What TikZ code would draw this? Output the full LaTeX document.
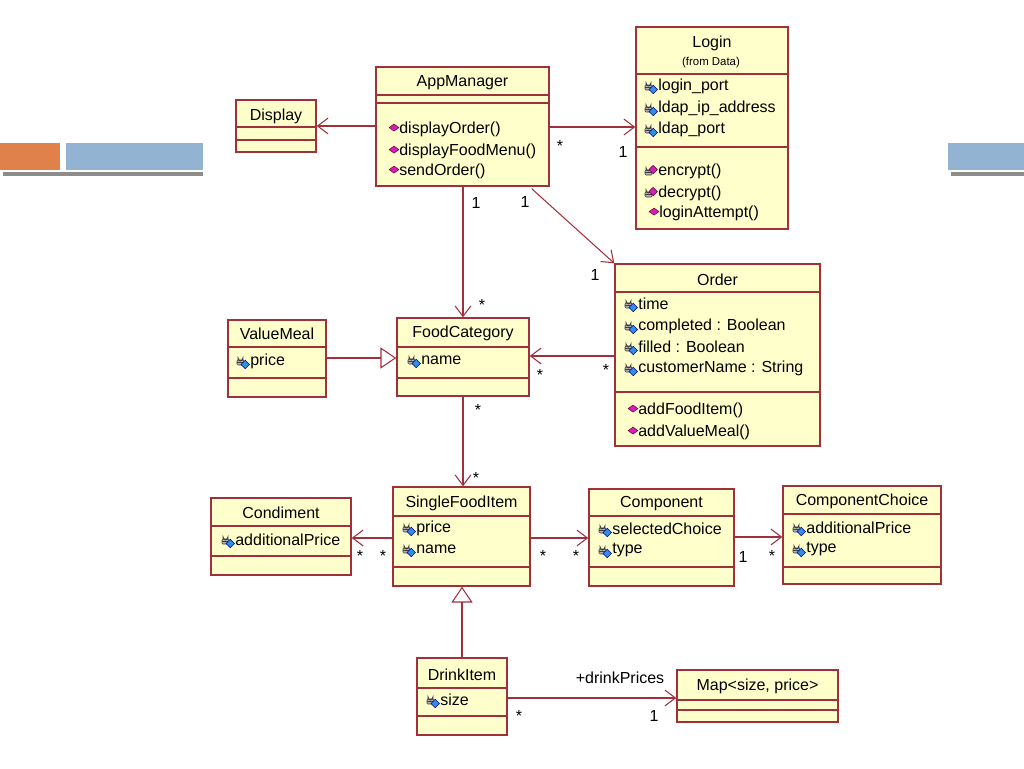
\documentclass[tikz,border=0pt]{standalone}
\usepackage{fontspec}
\setmainfont{Liberation Sans}
\usetikzlibrary{positioning,arrows.meta}
\definecolor{umlfill}{HTML}{FFFFCC}
\definecolor{umlline}{HTML}{A0303C}
\definecolor{opcol}{HTML}{D020C0}
\definecolor{attrcol}{HTML}{3090E0}
\definecolor{barorange}{HTML}{E0804A}
\definecolor{barblue}{HTML}{92B4D2}
\tikzset{
  classbox/.style={draw=umlline,fill=umlfill,line width=0.8pt,inner sep=0pt},
  txt/.style={inner sep=0pt,anchor=west,font=\fontsize{9.1}{11}\selectfont},
  ttl/.style={inner sep=0pt,font=\fontsize{9.1}{11}\selectfont},
  mult/.style={inner sep=0pt,font=\fontsize{9.1}{11}\selectfont},
  assoc/.style={draw=umlline,line width=0.6pt,-{Straight Barb[length=6pt,width=9pt]}},
  inherit/.style={draw=umlline,line width=0.6pt,-{Triangle[open,length=9pt,width=12pt,fill=white]}},
  lockicon/.pic={\fill[gray!60,draw=black!75,line width=0.3pt,rounded corners=0.5pt] (-4,-1) rectangle (3,4);
    \draw[black!75,line width=0.6pt] (-2.8,-1) -- (-2.8,-2.5) arc (180:0:2.3) -- (1.8,-1);
    \draw[black!75,line width=0.3pt] (-4,1.5) -- (3,1.5);},
  attrmark/.pic={\pic{lockicon};\fill[attrcol,draw=blue!60!black,line width=0.3pt] (3,-0.5) -- (6,2.5) -- (3,5.5) -- (0,2.5) -- cycle;},
  opmark/.pic={\fill[opcol,draw=purple!60!black,line width=0.3pt] (0,-3.5) -- (3.5,-1) -- (0,1.5) -- (-3.5,-1) -- cycle;},
  privop/.pic={\pic{lockicon};\fill[opcol,draw=purple!60!black,line width=0.3pt] (3,-4) -- (6,-1) -- (3,2) -- (0,-1) -- cycle;},
}
% class box: id, x1, y1, x2, y2, title, title y, separator 1, separator 2
\newcommand\umlclass[9]{%
  \node[classbox,minimum width={(#4-#2)*0.02cm},minimum height={(#5-#3)*0.02cm}]
    (#1) at ({(#2+#4)/2},{(#3+#5)/2}) {};
  \node[ttl] (#1-title) at ({(#2+#4)/2},#7) {#6};
  \draw[umlline,line width=0.6pt] (#2,#8) -- (#4,#8) (#2,#9) -- (#4,#9);}
\newcommand\attrline[3]{\pic[scale=1.4] at (#1,#2) {attrmark}; \node[txt] at (#1+9,#2) {#3};}
\newcommand\opline[3]{\pic[scale=1.4] at (#1,#2) {opmark}; \node[txt] at (#1+5,#2) {#3};}
\newcommand\privline[3]{\pic[scale=1.4] at (#1,#2) {privop}; \node[txt] at (#1+9,#2) {#3};}
\begin{document}
\begin{tikzpicture}[x=0.02cm,y=-0.02cm]
\useasboundingbox (0,0) rectangle (1024,768);
% slide decoration
\fill[black!45] (3,172) rectangle (203,176);
\fill[black!45] (951,172) rectangle (1024,176);
\fill[barorange] (0,143) rectangle (60,170);
\fill[barblue] (66,143) rectangle (203,170);
\fill[barblue] (948,143) rectangle (1024,170);
% classes
\umlclass{app}{376}{67}{549}{186}{AppManager}{83}{95}{103}
\opline{394}{129}{displayOrder()}
\opline{394}{151}{displayFoodMenu()}
\opline{394}{171}{sendOrder()}
\umlclass{display}{236}{100}{316}{152}{Display}{116}{127}{140}
\umlclass{login}{636}{27}{788}{229}{Login}{43}{74}{147}
\node[ttl,font=\fontsize{6.5}{8}\selectfont] (login-from) at (711,63) {(from Data)};
\attrline{649}{86}{login\_port}
\attrline{649}{108}{ldap\_ip\_address}
\attrline{649}{129}{ldap\_port}
\privline{649}{171}{encrypt()}
\privline{649}{193}{decrypt()}
\opline{654}{213}{loginAttempt()}
\umlclass{order}{615}{264}{820}{446}{Order}{280}{292}{392}
\attrline{629}{304}{time}
\attrline{629}{326}{completed : Boolean}
\attrline{629}{347}{filled : Boolean}
\attrline{629}{368}{customerName : String}
\opline{633}{410}{addFoodItem()}
\opline{633}{432}{addValueMeal()}
\umlclass{meal}{228}{320}{326}{397}{ValueMeal}{334}{347}{378}
\attrline{241}{361}{price}
\umlclass{food}{397}{318}{529}{396}{FoodCategory}{333}{347}{378}
\attrline{412}{360}{name}
\umlclass{cond}{211}{498}{351}{575}{Condiment}{513}{526}{556}
\attrline{226}{540}{additionalPrice}
\umlclass{single}{393}{487}{530}{586}{SingleFoodItem}{503}{516}{567}
\attrline{407}{528}{price}
\attrline{407}{549}{name}
\umlclass{comp}{589}{489}{734}{586}{Component}{504}{516}{567}
\attrline{603}{529}{selectedChoice}
\attrline{603}{550}{type}
\umlclass{choice}{783}{486}{941}{584}{ComponentChoice}{501}{514}{567}
\attrline{797}{528}{additionalPrice}
\attrline{797}{549}{type}
\umlclass{drink}{417}{658}{507}{735}{DrinkItem}{675}{688}{716}
\attrline{431}{700}{size}
\umlclass{map}{677}{670}{838}{722}{Map<size, price>}{686}{700}{710}
% connectors
\draw[assoc] (app.west|-display) -- (display.east);
\draw[assoc] (app.east|-0,127) -- (login.west|-0,127);
\node[mult] at (560,146) {*};
\node[mult] at (623,152) {1};
\draw[assoc] (app.south east)++(-18,2) -- (order.north west);
\node[mult] at (525,202) {1};
\node[mult] at (595,275) {1};
\draw[assoc] (app.south-|463,0) -- (food.north-|463,0);
\node[mult] at (476,203) {1};
\node[mult] at (482,305) {*};
\draw[inherit] (meal.east|-0,358) -- (food.west|-0,358);
\draw[assoc] (order.west|-0,356) -- (food.east|-0,356);
\node[mult] at (540,375) {*};
\node[mult] at (606,370) {*};
\draw[assoc] (food.south-|463,0) -- (single.north-|463,0);
\node[mult] at (478,410) {*};
\node[mult] at (476,478) {*};
\draw[assoc] (single.west|-0,538) -- (cond.east|-0,538);
\node[mult] at (360,556) {*};
\node[mult] at (383,556) {*};
\draw[assoc] (single.east|-0,538) -- (comp.west|-0,538);
\node[mult] at (543,556) {*};
\node[mult] at (576,556) {*};
\draw[assoc] (comp.east|-0,537) -- (choice.west|-0,537);
\node[mult] at (743,557) {1};
\node[mult] at (772,556) {*};
\draw[inherit] (drink.north-|462,0) -- (single.south-|462,0);
\draw[assoc] (drink.east|-0,698) -- (map.west|-0,698);
\node[mult] at (620,678) {+drinkPrices};
\node[mult] at (519,716) {*};
\node[mult] at (654,716) {1};
\end{tikzpicture}
\end{document}
